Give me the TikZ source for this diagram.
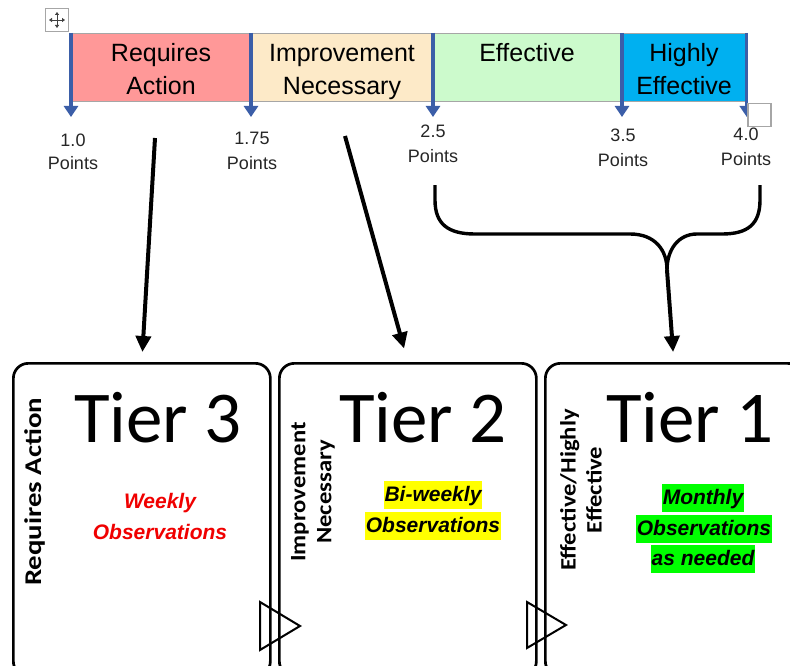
\documentclass[tikz,border=0pt]{standalone}
\usepackage{fontspec}
\setmainfont{Liberation Sans}
\newfontfamily\calfont{Carlito}
\newfontfamily\calnarrow[FakeStretch=1.12]{Carlito}
\newfontfamily\calreq[FakeStretch=1.2]{Carlito}
\usetikzlibrary{arrows.meta}

\definecolor{segRed}{HTML}{FF9898}
\definecolor{segCream}{HTML}{FDEAC8}
\definecolor{segGreen}{HTML}{CCFACC}
\definecolor{segBlue}{HTML}{00B0F0}
\definecolor{tickBlue}{HTML}{3B5EA8}
\definecolor{barEdge}{HTML}{A6A6A6}
\definecolor{hlYellow}{HTML}{FFFF00}
\definecolor{hlGreen}{HTML}{00FF00}
\definecolor{obsRed}{HTML}{F00000}

\begin{document}
\begin{tikzpicture}[x=1pt,y=-1pt,
  seg/.style={draw=barEdge, line width=0.8pt, minimum height=68pt, inner sep=0pt, anchor=north west},
  bartext/.style={anchor=base, inner sep=0pt, font=\fontsize{25}{30}\selectfont},
  ptlabel/.style={anchor=base, inner sep=0pt, font=\fontsize{18}{22}\selectfont, text=black!85},
  tick/.style={draw=tickBlue, line width=3.2pt, -{Triangle[width=14pt,length=11pt]}},
  pointer/.style={draw=black, line width=4pt, -{Triangle[width=15pt,length=16pt]}},
  bracepath/.style={draw=black, line width=3.4pt},
  tierbox/.style={draw=black, line width=2.7pt, rounded corners=15pt, minimum width=257pt, minimum height=313pt, anchor=north west, inner sep=0pt},
  tiertitle/.style={anchor=base, inner sep=0pt, font=\calfont\fontsize{73}{80}\selectfont},
  sidelabel/.style={rotate=90, inner sep=0pt, align=center, font=\calnarrow\bfseries\fontsize{22}{26}\selectfont},
  obs/.style={anchor=base, inner xsep=1pt, inner ysep=3pt, text height=17pt, text depth=5pt, font=\bfseries\itshape\fontsize{21}{25}\selectfont},
  chevron/.style={draw=black, fill=white, line width=2pt, line join=miter},
  handle/.style={draw=gray!70, line width=1.1pt, minimum size=23pt, inner sep=0pt},
  grip/.style={draw=black!75, line width=0.9pt, {Triangle[width=4pt,length=3pt]}-{Triangle[width=4pt,length=3pt]}},
]
\useasboundingbox (0,0) rectangle (790,666);
\clip (0,0) rectangle (790,666);
\fill[white] (0,0) rectangle (790,666);

% rating scale bar
\node[seg, fill=segRed,   minimum width=180pt] (ra) at (71,33) {};
\node[seg, fill=segCream, minimum width=182pt] (in) at (251,33) {};
\node[seg, fill=segGreen, minimum width=189pt] (ef) at (433,33) {};
\node[seg, fill=segBlue,  minimum width=124pt] (he) at (622,33) {};

\node[bartext] (raA) at (161,62) {Requires};
\node[bartext] (raB) at (161,95) {Action};
\node[bartext] (inA) at (342,62) {Improvement};
\node[bartext] (inB) at (342,95) {Necessary};
\node[bartext] (efA) at (527,62) {Effective};
\node[bartext] (heA) at (684,62) {Highly};
\node[bartext] (heB) at (684,95) {Effective};

% boundary markers
\draw[tick] (ra.north west) -- ++(0,84);
\draw[tick] (in.north west) -- ++(0,84);
\draw[tick] (ef.north west) -- ++(0,84);
\draw[tick] (he.north west) -- ++(0,84);
\draw[tick] (he.north east) -- ++(0,84);

% point values
\node[ptlabel] (p1a) at (73,147) {1.0};
\node[ptlabel] (p1b) at (73,170) {Points};
\node[ptlabel] (p2a) at (252,145) {1.75};
\node[ptlabel] (p2b) at (252,169) {Points};
\node[ptlabel] (p3a) at (433,138) {2.5};
\node[ptlabel] (p3b) at (433,163) {Points};
\node[ptlabel] (p4a) at (623,142) {3.5};
\node[ptlabel] (p4b) at (623,167) {Points};
\node[ptlabel] (p5a) at (746,141) {4.0};
\node[ptlabel] (p5b) at (746,165) {Points};

% editor handles
\node[handle] (mover) at (57,20) {};
\draw[grip] ([xshift=-8pt]mover.center) -- ([xshift=8pt]mover.center);
\draw[grip] ([yshift=-8pt]mover.center) -- ([yshift=8pt]mover.center);
\node[handle, fill=white] (resize) at (759.5,115) {};

% chevrons between tiers
\draw[chevron] (260,602) -- (300,626) -- (260,650) -- cycle;
\draw[chevron] (527,602) -- (566,625) -- (527,648) -- cycle;

% tier boxes
\node[tierbox] (box3) at (12,362) {};
\node[tierbox] (box2) at (278,362) {};
\node[tierbox] (box1) at (544,362) {};

% pointers from the scale to the tiers
\coordinate (srcA) at (155,138);
\coordinate (srcB) at (345,136);
\draw[pointer, shorten >=10pt] (srcA) -- (box3.north);
\draw[pointer, shorten >=14pt] (srcB) -- (box2.north);

\coordinate (braceL) at (435,185);
\coordinate (braceR) at (760,185);
\coordinate (join) at (667,270);
\draw[bracepath] (braceL) -- (435,200) .. controls (435,224) and (448,234) .. (475,234)
  -- (630,234) .. controls (655,234) and (667,250) .. (join);
\draw[bracepath] (braceR) -- (760,200) .. controls (760,224) and (748,234) .. (722,234)
  -- (697,234) .. controls (678,234) and (667,250) .. (join);
\draw[pointer, shorten >=10pt] (join) -- (box1.north);

% tier titles
\node[tiertitle] (t3) at (158,442) {Tier 3};
\node[tiertitle] (t2) at (423,442) {Tier 2};
\node[tiertitle] (t1) at (690,442) {Tier 1};

% side labels
\node[sidelabel, anchor=base, font=\calreq\bfseries\fontsize{24}{28}\selectfont] (s3) at (41,492) {Requires Action};
\node[sidelabel] (s2) at (313,492) {Improvement\\Necessary};
\node[sidelabel] (s1) at (581,490) {Effective/Highly\\Effective};

% observation frequency
\node[obs, text=obsRed] (o3a) at (160,508) {Weekly};
\node[obs, text=obsRed] (o3b) at (160,539) {Observations};
\node[obs, fill=hlYellow] (o2a) at (433,501) {Bi-weekly};
\node[obs, fill=hlYellow] (o2b) at (433,532) {Observations};
\node[obs, fill=hlGreen] (o1a) at (703,504) {Monthly};
\node[obs, fill=hlGreen] (o1b) at (704,535) {Observations};
\node[obs, fill=hlGreen] (o1c) at (703,565) {as needed};
\end{tikzpicture}
\end{document}
